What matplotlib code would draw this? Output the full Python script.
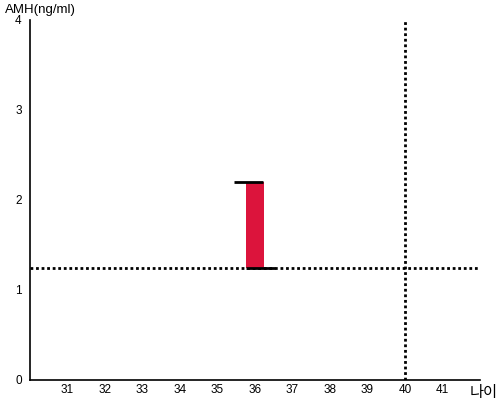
import matplotlib
matplotlib.use("Agg")
import matplotlib.pyplot as plt

ages = [36]
amh_low = [1.25]
amh_high = [2.2]
ref_amh = 1.25
ref_age = 40
xticks = [31, 32, 33, 34, 35, 36, 37, 38, 39, 40, 41]
yticks = [0, 1, 2, 3, 4]

plt.rcParams['font.family'] = ['Liberation Sans', 'Noto Sans CJK KR', 'DejaVu Sans']

fig = plt.figure(figsize=(5, 4), dpi=100)
ax = fig.add_axes([0.06, 0.05, 0.90, 0.90])
ax.set_xlim(30, 42)
ax.set_ylim(0, 4)

for a, lo, hi in zip(ages, amh_low, amh_high):
    ax.bar(a, hi - lo, bottom=lo, width=0.48, color='#DC143C', zorder=3)
    ax.plot([a - 0.55, a + 0.2], [hi, hi], color='black', lw=2, solid_capstyle='butt', zorder=4)
    ax.plot([a - 0.25, a + 0.52], [lo, lo], color='black', lw=2, solid_capstyle='butt', zorder=4)

ax.axhline(ref_amh, color='black', lw=2, ls=(0, (1, 1)), zorder=2)
ax.axvline(ref_age, color='black', lw=2, ls=(0, (1, 1)), zorder=2)

ax.spines['top'].set_visible(False)
ax.spines['right'].set_visible(False)
ax.spines['left'].set_linewidth(1.2)
ax.spines['bottom'].set_linewidth(1.2)
ax.set_xticks(xticks)
ax.set_yticks(yticks)
ax.tick_params(axis='x', length=0, labelsize=8.5, pad=3)
ax.tick_params(axis='y', length=0, labelsize=8.5, pad=6)

fig.text(0.01, 0.975, 'AMH(ng/ml)', fontsize=9.5, ha='left', va='center')
fig.text(0.995, 0.018, '나이', fontsize=11, ha='right', va='center',
         family=['Noto Sans CJK KR', 'DejaVu Sans'])

fig.savefig('out.png', dpi=100)
